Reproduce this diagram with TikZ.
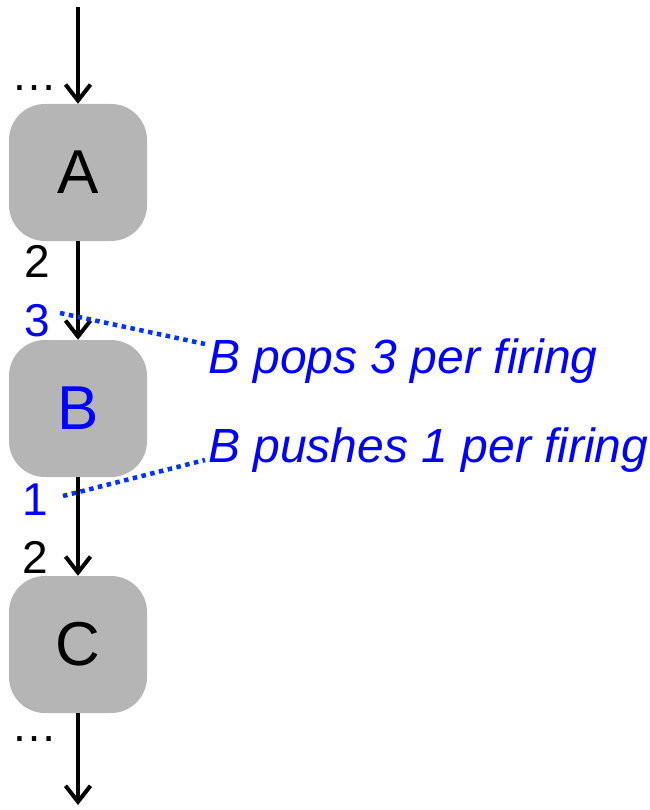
\documentclass[tikz,border=0pt]{standalone}
\usepackage{fontspec}
\setmainfont{Liberation Sans}
\usetikzlibrary{arrows.meta}
\definecolor{boxgray}{RGB}{181,181,181}
\definecolor{annot}{RGB}{0,0,255}
\definecolor{leader}{RGB}{0,51,255}
\begin{document}
\begin{tikzpicture}[x=1pt,y=-1pt,
  actor/.style={rectangle, rounded corners=36pt, fill=boxgray,
    minimum width=138pt, minimum height=137pt, inner sep=0pt,
    font=\fontsize{62}{62}\selectfont},
  flow/.style={line width=4pt,
    -{Straight Barb[length=16pt,width=25pt,line width=4pt]}},
  rate/.style={font=\fontsize{46}{46}\selectfont, inner sep=0pt, anchor=base},
  note/.style={font=\fontsize{48}{48}\selectfont\itshape, text=annot,
    inner sep=0pt, anchor=base west},
  link/.style={draw=leader, line width=4.5pt, dash pattern=on 4.5pt off 4.5pt}
]
\useasboundingbox (0,0) rectangle (649,810);

% actors of the stream graph
\node[actor] (A) at (78,172.5) {A};
\node[actor, text=annot] (B) at (78,408.5) {B};
\node[actor] (C) at (78,644.5) {C};

% open ends of the chain
\coordinate (in) at (78,7);
\coordinate (out) at (78,805);

\draw[flow] (in) -- (A);
\draw[flow] (A) -- (B);
\draw[flow] (B) -- (C);
\draw[flow] (C) -- (out);

% token rates and elisions
\node[rate] (more1) at (34,91) {…};
\node[rate] (outA) at (37,277) {2};
\node[rate, text=annot] (inB) at (37,336) {3};
\node[rate, text=annot] (outB) at (35,515) {1};
\node[rate] (inC) at (35,573) {2};
\node[rate] (more2) at (34,741) {…};

% annotations
\node[note] (pops) at (208,373) {B pops 3 per firing};
\node[note] (pushes) at (208,462) {B pushes 1 per firing};

\coordinate (popsfrom) at (60,313);
\coordinate (popsto) at (205,344);
\coordinate (pushfrom) at (63,496);
\coordinate (pushto) at (205,460);
\draw[link] (popsfrom) -- (popsto);
\draw[link] (pushfrom) -- (pushto);
\end{tikzpicture}
\end{document}
